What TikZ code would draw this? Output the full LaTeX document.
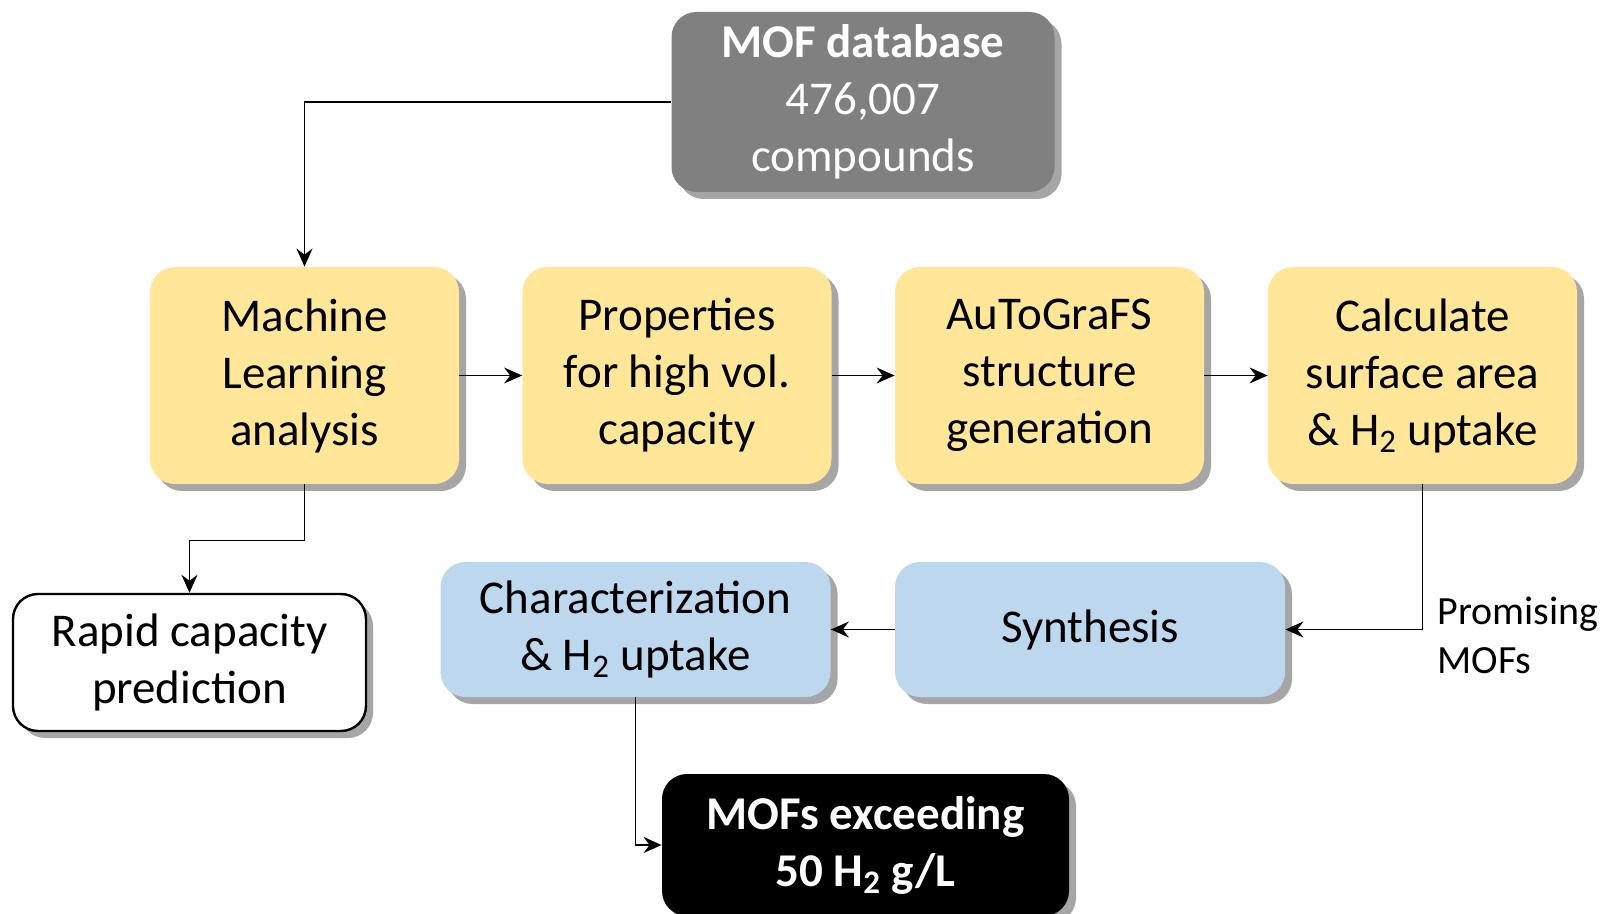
\documentclass[tikz,border=0pt]{standalone}
\usepackage{fontspec}
\setmainfont{Carlito}
\usepackage{tikz}
\usetikzlibrary{arrows.meta}
\usetikzlibrary{shadows}

\definecolor{dbgray}{HTML}{808080}
\definecolor{stepyellow}{HTML}{FFE699}
\definecolor{stepblue}{HTML}{BDD7EE}

\tikzset{
  box/.style={align=center, rounded corners=12.5pt, inner sep=2pt, text=black,
    font=\fontsize{23.5}{28.5}\selectfont,
    drop shadow={shadow xshift=3.5pt, shadow yshift=-3.5pt, fill=black, opacity=0.35}},
  yellowbox/.style={box, fill=stepyellow, minimum width=154.5pt, minimum height=108.5pt},
  bluebox/.style={box, fill=stepblue, minimum width=195pt, minimum height=67.5pt},
  flow/.style={line width=0.75pt, -{Stealth[length=9pt, width=8pt, inset=3pt]}}
}

\begin{document}
\begin{tikzpicture}[x=0.5pt, y=-0.5pt]

\useasboundingbox (0,0) rectangle (1602,914);

\node[box, fill=dbgray, text=white, minimum width=191.5pt, minimum height=90pt] (database) at (863, 102) {\textbf{MOF database}\\476,007\\compounds};


\node[yellowbox] (mlanalysis) at (304.5, 375.5) {Machine\\Learning\\analysis};

\node[yellowbox] (properties) at (677, 375.5) {Properties\\for high vol.\\capacity};

\node[yellowbox] (autografs) at (1049.5, 375.5) {AuToGraFS\\structure\\generation};

\node[yellowbox] (calculate) at (1422.5, 375.5) {Calculate\\surface area\\\& H\textsubscript{2} uptake};


\node[box, fill=white, draw=black, line width=1.2pt, minimum width=176.5pt, minimum height=68.5pt] (rapid) at (189.5, 662.5) {Rapid capacity\\prediction};

\node[bluebox] (characterization) at (635.5, 629.5) {Characterization\\\& H\textsubscript{2} uptake};

\node[bluebox] (synthesis) at (1090, 629.5) {Synthesis};

\node[box, fill=black, text=white, minimum width=203.5pt, minimum height=71pt, font=\fontsize{23.5}{28.5}\selectfont\bfseries] (exceeding) at (865.5, 845) {MOFs exceeding\\50 H\textsubscript{2} g/L};

\node[align=left, anchor=west, inner sep=0pt, font=\fontsize{20}{24.5}\selectfont] (promising) at (1437, 635) {Promising\\MOFs};


\draw[flow] (database.west) -| (mlanalysis.north);
\draw[flow] (mlanalysis.south) -- ++(0, 56) -| (rapid.north);
\draw[flow] (mlanalysis) -- (properties);
\draw[flow] (properties) -- (autografs);
\draw[flow] (autografs) -- (calculate);
\draw[flow] (calculate.south) |- (synthesis.east);
\draw[flow] (synthesis) -- (characterization);
\draw[flow] (characterization.south) |- (exceeding.west);

\end{tikzpicture}
\end{document}
